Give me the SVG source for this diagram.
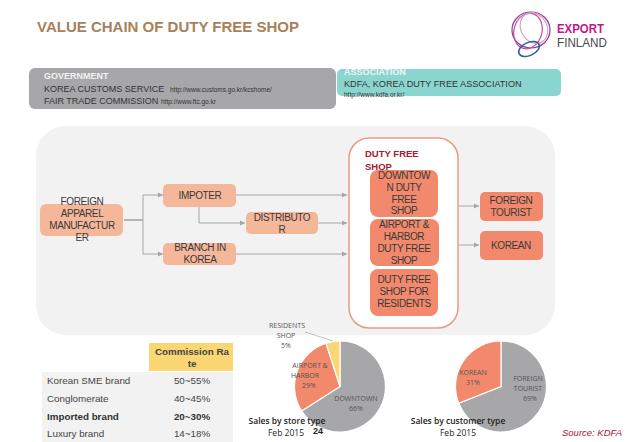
<svg xmlns="http://www.w3.org/2000/svg" width="638" height="442" viewBox="0 0 638 442">
<defs>
<marker id="arr" markerWidth="6" markerHeight="6" refX="5" refY="3" orient="auto" markerUnits="userSpaceOnUse"><path d="M0,0.5 L5,3 L0,5.5 z" fill="#a6a6a8"/></marker>
</defs>
<style>
text{font-family:"Liberation Sans",Arial,sans-serif}
.n{font-size:10px;letter-spacing:-0.4px;fill:#3a3a3a;text-anchor:middle}
.lt{fill:#f4b79a}
.dk{fill:#f2896c}
.c{fill:none;stroke:#a6a6a8;stroke-width:1}
.p{font-family:"Open Sans","Noto Sans",sans-serif;font-size:7px;fill:#555;text-anchor:middle}
.cap{font-family:"Open Sans","Noto Sans",sans-serif;font-size:8.5px;fill:#222;text-anchor:middle}
.t{font-size:9.8px;fill:#444}
.tc{font-size:9.8px;fill:#444;text-anchor:middle}
</style>
<rect width="638" height="442" fill="#fff"/>
<text x="37" y="32" font-size="15" font-weight="bold" fill="#a98158">VALUE CHAIN OF DUTY FREE SHOP</text>
<g id="logo">
<g fill="none" stroke-width="1.2">
<ellipse cx="531" cy="30" rx="19" ry="18" stroke="#8a3f94"/>
<ellipse cx="528" cy="31" rx="14" ry="18" stroke="#c9479f" transform="rotate(15 528 31)"/>
<ellipse cx="534" cy="28" rx="13" ry="16" stroke="#d9a0c8" transform="rotate(-30 534 28)"/>
<ellipse cx="529" cy="49" rx="11" ry="6.5" stroke="#2f5fa5" stroke-width="1.6" transform="rotate(-25 529 49)"/>
</g>
<text x="557" y="32.5" font-size="12" font-weight="bold" fill="#c2188b" textLength="47" lengthAdjust="spacingAndGlyphs">EXPORT</text>
<text x="557" y="46.5" font-size="12" fill="#4a4a4a" textLength="50" lengthAdjust="spacingAndGlyphs">FINLAND</text>
</g>
<g id="government">
<rect x="29" y="68" width="307" height="41" rx="6" fill="#a7a7aa"/>
<text x="44" y="79" font-size="9" font-weight="bold" fill="#f2f2f2">GOVERNMENT</text>
<text x="44" y="92" font-size="9" fill="#333">KOREA CUSTOMS SERVICE</text>
<text x="170" y="92" font-size="6.5" fill="#333">http://www.customs.go.kr/kcshome/</text>
<text x="44" y="104" font-size="9" fill="#333">FAIR TRADE COMMISSION</text>
<text x="161" y="104" font-size="6.5" fill="#333">http://www.ftc.go.kr</text>
</g>
<g id="association">
<rect x="337" y="69" width="224" height="27" rx="5" fill="#8bd5d0"/>
<text x="344" y="75" font-size="9" font-weight="bold" fill="#f2f2f2">ASSOCIATION</text>
<text x="344" y="87" font-size="9.1" fill="#333">KDFA, KOREA DUTY FREE ASSOCIATION</text>
<text x="344" y="97" font-size="6.5" fill="#333">http://www.kdfa.or.kr/</text>
</g>
<rect id="panel" x="36" y="126" width="519" height="209" rx="30" fill="#f2f2f2"/>
<g id="connectors">
<path class="c" style="stroke-width:1.6" d="M124,220 H143"/>
<path class="c" marker-end="url(#arr)" d="M143,220 V195 H163"/>
<path class="c" marker-end="url(#arr)" d="M143,220 V254 H163"/>
<path class="c" marker-end="url(#arr)" d="M236,195 H347"/>
<path class="c" marker-end="url(#arr)" d="M199,207 V223 H245"/>
<path class="c" marker-end="url(#arr)" d="M318,223 H347"/>
<path class="c" marker-end="url(#arr)" d="M236,254 H347"/>
<path class="c" marker-end="url(#arr)" d="M459,206 H479"/>
<path class="c" marker-end="url(#arr)" d="M459,245 H479"/>
</g>
<g id="foreign-manufacturer">
<rect class="lt" x="40" y="204" width="83" height="32" rx="6"/>
<text class="n" x="82" y="205">FOREIGN</text><text class="n" x="82" y="217">APPAREL</text><text class="n" x="82" y="229">MANUFACTUR</text><text class="n" x="82" y="241">ER</text>
</g>
<g id="impoter">
<rect class="lt" x="163" y="184" width="73" height="23" rx="5"/>
<text class="n" x="200" y="199">IMPOTER</text>
</g>
<g id="distributor">
<rect class="lt" x="246" y="212" width="72" height="22" rx="5"/>
<text class="n" x="282" y="221">DISTRIBUTO</text><text class="n" x="282" y="233">R</text>
</g>
<g id="branch">
<rect class="lt" x="163" y="243" width="73" height="22" rx="5"/>
<text class="n" x="200" y="251">BRANCH IN</text><text class="n" x="200" y="263">KOREA</text>
</g>
<g id="duty-free-shop">
<rect x="349" y="138" width="109" height="190" rx="20" fill="#fff" stroke="#ea9a80" stroke-width="1.5"/>
<text x="365" y="157" font-size="9.5" font-weight="bold" fill="#a6192e">DUTY FREE</text>
<text x="365" y="170" font-size="9.5" font-weight="bold" fill="#a6192e">SHOP</text>
</g>
<g id="downtown">
<rect class="dk" x="370" y="170" width="68" height="47" rx="8"/>
<text class="n" x="404" y="179">DOWNTOW</text><text class="n" x="404" y="191">N DUTY</text><text class="n" x="404" y="203">FREE</text><text class="n" x="404" y="214">SHOP</text>
</g>
<g id="airport">
<rect class="dk" x="370" y="219" width="69" height="47" rx="8"/>
<text class="n" x="404" y="228">AIRPORT &amp;</text><text class="n" x="404" y="240">HARBOR</text><text class="n" x="404" y="252">DUTY FREE</text><text class="n" x="404" y="264">SHOP</text>
</g>
<g id="residents">
<rect class="dk" x="370" y="269" width="68" height="47" rx="8"/>
<text class="n" x="404" y="283">DUTY FREE</text><text class="n" x="404" y="295">SHOP FOR</text><text class="n" x="404" y="307">RESIDENTS</text>
</g>
<g id="foreign-tourist">
<rect class="dk" x="480" y="192" width="63" height="29" rx="5"/>
<text class="n" x="511" y="204">FOREIGN</text><text class="n" x="511" y="216">TOURIST</text>
</g>
<g id="korean">
<rect class="dk" x="480" y="231" width="63" height="29" rx="5"/>
<text class="n" x="511" y="249">KOREAN</text>
</g>
<g id="table">
<rect x="149" y="343" width="84" height="28" fill="#fbd774"/>
<rect x="42" y="372" width="191" height="70" fill="#f2f2f2"/>
<text class="tc" x="192" y="355" font-weight="bold" fill="#333">Commission Ra</text>
<text class="tc" x="192" y="367" font-weight="bold" fill="#333">te</text>
<text class="t" x="47" y="384">Korean SME brand</text><text class="tc" x="192" y="384">50~55%</text>
<text class="t" x="47" y="402">Conglomerate</text><text class="tc" x="192" y="402">40~45%</text>
<text class="t" x="47" y="420" font-weight="bold" style="fill:#333">Imported brand</text><text class="tc" x="192" y="420" font-weight="bold" style="fill:#333">20~30%</text>
<text class="t" x="47" y="437">Luxury brand</text><text class="tc" x="192" y="437">14~18%</text>
</g>
<g id="pie-store" stroke="#fff" stroke-width="1.2">
<path d="M340,386.5 V341 A45.5,45.5 0 1 1 301.6,410.9 z" fill="#a7a7aa"/>
<path d="M340,386.5 L301.6,410.9 A45.5,45.5 0 0 1 326,343.2 z" fill="#f2896c"/>
<path d="M340,386.5 L326,343.2 A45.5,45.5 0 0 1 340,341 z" fill="#fbd774"/>
<path d="M305,332 L333,341" fill="none" stroke="#a6a6a8" stroke-width="0.7"/>
</g>
<g id="pie-store-labels">
<text class="p" x="287" y="328">RESIDENTS</text><text class="p" x="286" y="338">SHOP</text><text class="p" x="286" y="348">5%</text>
<text class="p" x="310" y="368">AIRPORT &amp;</text><text class="p" x="305" y="378">HARBOR</text><text class="p" x="309" y="388">29%</text>
<text class="p" x="356" y="401">DOWNTOWN</text><text class="p" x="356" y="411">66%</text>
<text class="cap" x="287" y="424" font-weight="600">Sales by store type</text><text class="cap" x="286" y="436">Feb 2015</text>
<text x="318" y="434" font-size="9" font-weight="bold" font-family="Liberation Serif" text-anchor="middle" fill="#222">24</text>
</g>
<g id="pie-customer" stroke="#fff" stroke-width="1.2">
<path d="M501,386.5 V341 A45.5,45.5 0 1 1 458.7,403.3 z" fill="#a7a7aa"/>
<path d="M501,386.5 L458.7,403.3 A45.5,45.5 0 0 1 501,341 z" fill="#f2896c"/>
</g>
<g id="pie-customer-labels">
<text class="p" x="473" y="375">KOREAN</text><text class="p" x="473" y="385">31%</text>
<text class="p" x="528" y="381">FOREIGN</text><text class="p" x="528" y="391">TOURIST</text><text class="p" x="530" y="401">69%</text>
<text class="cap" x="458" y="424" font-weight="600">Sales by customer type</text><text class="cap" x="458" y="436">Feb 2015</text>
</g>
<text x="622" y="436" font-size="9.5" font-style="italic" fill="#a6192e" text-anchor="end">Source: KDFA</text>
</svg>
